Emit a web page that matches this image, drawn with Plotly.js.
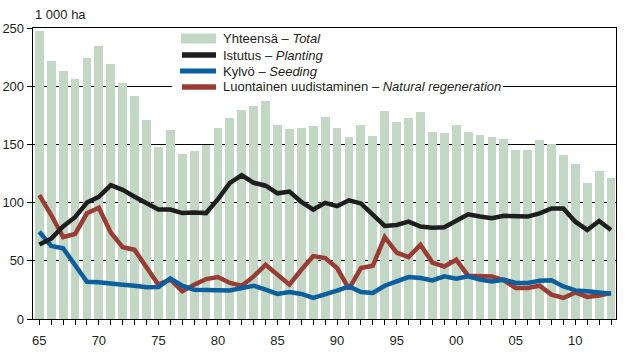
<!DOCTYPE html>
<html>
<head>
<meta charset="utf-8">
<script src="https://cdn.plot.ly/plotly-3.0.1.min.js"></script>
<style>html,body{margin:0;padding:0;background:#fff;}#chart{width:628px;height:353px;}</style>
</head>
<body>
<div id="chart"></div>
<script>
var years = [];
for (var y = 1965; y <= 2013; y++) years.push(y);

var tickVals = years;
var tickText = ["65","","","","","70","","","","","75","","","","","80","","","","","85","","","","","90","","","","","95","","","","","00","","","","","05","","","","","10","","",""];

var total = [247,222,213,206,224,234.5,219,203,192,171,147.5,162,141.5,144,149.5,164,172.5,179.5,183,187,167,163,164.5,165.5,173.5,164.5,156,166.5,157,179,169,172.5,177.5,160.5,159.5,167,161,158,156,155,145,145.5,153.5,150,140.5,133,117,127.5,121];

var planting = [64,69,79.5,87.5,100,105,115,111,105,100,94,94,91,91.5,91,103,117,123.5,117,114.5,108,109.5,100.5,94,99.8,97,102,99.3,89.3,80,80.8,83.6,79.4,78.5,78.8,84.5,90,88,86.5,88.7,88,88,90.8,95,95,83.6,76.5,84.2,76.5];

var seeding = [75,62.8,60.8,45.7,32,31.5,30.1,29.5,28.6,27.2,27.4,34.8,28.6,25.2,25,25,24.5,26.6,28.6,25.2,21.5,23.2,21.5,18.1,20.9,24.4,28,23.2,22.4,28.6,32.3,36,35.2,33.2,36.6,34.6,36.6,33.8,32.3,33.8,31,31,32.9,33.2,28,24.6,23.8,23.2,21.8];

var natural = [106.4,89.3,70.3,73,90.8,95.6,74.2,61.7,59.4,45.1,29.5,34,23.8,29.5,34.3,36,31,28.6,36.6,46.6,38,29.5,42.3,54,52.3,43.8,25.8,43.8,45.7,70.3,57.1,53.2,63.7,48.5,45.1,50.9,37.2,37.2,36.6,33.2,26.7,26.7,28.6,20.9,18.1,22.9,19,20.1,22.4];

var seriesNames = ["Yhteensä – <i>Total</i>", "Istutus – <i>Planting</i>", "Kylvö – <i>Seeding</i>", "Luontainen uudistaminen – <i>Natural regeneration</i>"];
var colBar = "#c2d8c5", colPlant = "#1e1e1e", colSeed = "#0b5f9f", colNat = "#9a3b34";
var txt = "#231f20";
var fontFam = "'Liberation Sans', Arial, sans-serif";

var traces = [
  {type: "bar", x: years, y: total, name: seriesNames[0], marker: {color: colBar, line: {width: 0}}, width: 0.74, showlegend: false, hoverinfo: "x+y"},
  {type: "scatter", mode: "lines", x: years, y: natural, name: seriesNames[3], line: {color: colNat, width: 4.5}, showlegend: false},
  {type: "scatter", mode: "lines", x: years, y: seeding, name: seriesNames[2], line: {color: colSeed, width: 4.5}, showlegend: false},
  {type: "scatter", mode: "lines", x: years, y: planting, name: seriesNames[1], line: {color: colPlant, width: 4.5}, showlegend: false}
];

// pixel -> paper helpers for the manual legend (plot area 33..616 x 28..319)
function px(x) { return (x - 33) / 583; }
function py(y) { return (319 - y) / 291; }

var legendRows = [38.5, 55, 71, 87];
var shapes = [
  {type: "rect", xref: "paper", yref: "paper", x0: px(172), x1: px(503), y0: py(95), y1: py(29.5), fillcolor: "#ffffff", line: {width: 0}, layer: "above"},
  {type: "rect", xref: "paper", yref: "paper", x0: px(181), x1: px(216), y0: py(43.5), y1: py(33.5), fillcolor: colBar, line: {width: 0}, layer: "above"},
  {type: "line", xref: "paper", yref: "paper", x0: px(182), x1: px(216), y0: py(legendRows[1]), y1: py(legendRows[1]), line: {color: colPlant, width: 5.5}, layer: "above"},
  {type: "line", xref: "paper", yref: "paper", x0: px(180), x1: px(216), y0: py(legendRows[2]), y1: py(legendRows[2]), line: {color: colSeed, width: 5}, layer: "above"},
  {type: "line", xref: "paper", yref: "paper", x0: px(182), x1: px(216), y0: py(legendRows[3]), y1: py(legendRows[3]), line: {color: colNat, width: 5.5}, layer: "above"}
];
var annotations = [
  {text: "1 000 ha", xref: "paper", yref: "paper", x: 0, y: py(15), xanchor: "left", yanchor: "middle", showarrow: false, font: {family: fontFam, size: 13, color: txt}}
];
for (var i = 0; i < 4; i++) {
  annotations.push({text: seriesNames[i], xref: "paper", yref: "paper", x: px(221), y: py(legendRows[i]), xanchor: "left", yanchor: "middle", showarrow: false, font: {family: fontFam, size: 13, color: txt}});
}

var layout = {
  width: 628, height: 353,
  margin: {l: 33, r: 12, t: 28, b: 34, pad: 0},
  paper_bgcolor: "#ffffff", plot_bgcolor: "#ffffff",
  font: {family: fontFam, size: 13, color: txt},
  showlegend: false,
  bargap: 0,
  xaxis: {
    range: [1964.471, 2013.417],
    tickmode: "array", tickvals: tickVals, ticktext: tickText,
    ticks: "outside", ticklen: 5, tickwidth: 1, tickcolor: "#000",
    showline: true, linecolor: "#000", linewidth: 1.3, mirror: true,
    showgrid: false, zeroline: false,
    tickfont: {family: fontFam, size: 13, color: txt},
    ticklabelstandoff: 4
  },
  yaxis: {
    range: [0, 250], tickmode: "linear", tick0: 0, dtick: 50,
    ticks: "outside", ticklen: 5, tickwidth: 1, tickcolor: "#000",
    showline: true, linecolor: "#000", linewidth: 1.3, mirror: true,
    showgrid: true, gridcolor: "#000", gridwidth: 1,
    zeroline: false,
    tickfont: {family: fontFam, size: 13, color: txt}
  },
  shapes: shapes,
  annotations: annotations
};

Plotly.newPlot("chart", traces, layout, {displayModeBar: false, staticPlot: true});
</script>
</body>
</html>
